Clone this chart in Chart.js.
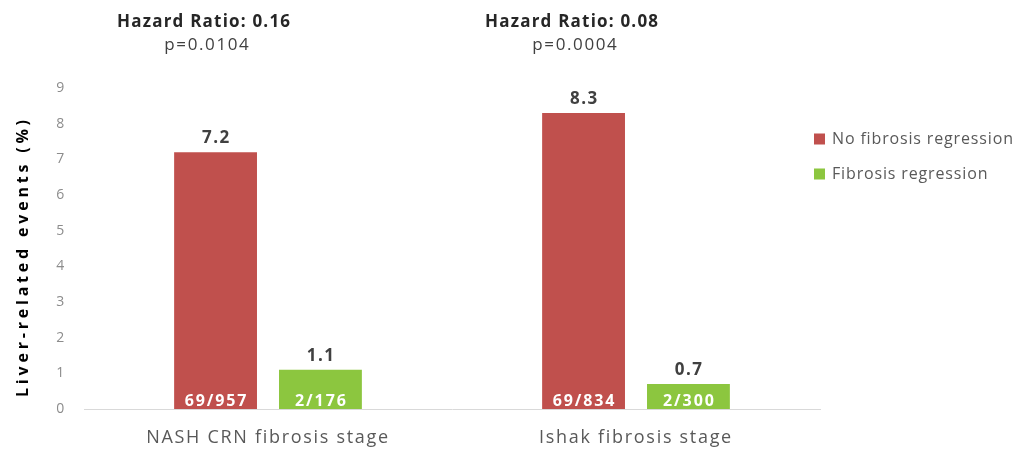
<!DOCTYPE html>
<html>
<head>
<meta charset="utf-8">
<script src="https://cdn.jsdelivr.net/npm/chart.js@4/dist/chart.umd.min.js"></script>
<style>
  html, body { margin: 0; padding: 0; background: #ffffff; }
  #wrap { width: 1022px; height: 453px; position: relative; }
</style>
</head>
<body>
<div id="wrap"><canvas id="c" width="1022" height="453"></canvas></div>
<script>
// Liver-related events by fibrosis staging system
const categories = ['NASH CRN fibrosis stage', 'Ishak fibrosis stage'];
const seriesNames = ['No fibrosis regression', 'Fibrosis regression'];
const noRegression = [7.2, 8.3];
const regression = [1.1, 0.7];
const noRegressionCounts = ['69/957', '69/834'];
const regressionCounts = ['2/176', '2/300'];
const hazardRatios = ['Hazard Ratio: 0.16', 'Hazard Ratio: 0.08'];
const pValues = ['p=0.0104', 'p=0.0004'];
const yTicks = [0, 1, 2, 3, 4, 5, 6, 7, 8, 9];
const yTitle = 'Liver-related events (%)';

const RED = '#c0504d';
const GREEN = '#8cc63f';
const FONT = '"Open Sans", Lato, sans-serif';

function text(ctx, str, x, y, font, color, align, spacing) {
  ctx.font = font;
  ctx.fillStyle = color;
  ctx.letterSpacing = spacing + 'px';
  ctx.textAlign = 'left';
  const w = ctx.measureText(str).width - spacing;
  const x0 = align === 'center' ? x - w / 2 : x;
  ctx.fillText(str, x0, y);
}

const annotations = {
  id: 'annotations',
  beforeDraw(chart) {
    // slightly open tracking for the axis labels
    chart.ctx.letterSpacing = '1.7px';
  },
  afterDatasetsDraw(chart) {
    const ctx = chart.ctx;
    const counts = [noRegressionCounts, regressionCounts];
    ctx.save();
    ctx.textBaseline = 'alphabetic';
    chart.data.datasets.forEach((ds, di) => {
      const meta = chart.getDatasetMeta(di);
      meta.data.forEach((bar, i) => {
        // value above the bar
        text(ctx, ds.data[i].toFixed(1), bar.x, bar.y - 9, 'bold 17px ' + FONT, '#404040', 'center', 1.5);
        // patient count at the bar base
        text(ctx, counts[di][i], bar.x, bar.base - 3, 'bold 16px ' + FONT, '#ffffff', 'center', 1.9);
      });
    });
    // hazard ratio headers above each group
    ctx.textBaseline = 'middle';
    chart.getDatasetMeta(0).data.forEach((bar, i) => {
      const cx = bar.x - 12;
      text(ctx, hazardRatios[i], cx, 22, 'bold 17px ' + FONT, '#262626', 'center', 1.2);
      text(ctx, pValues[i], cx + 3, 45, '17px ' + FONT, '#404040', 'center', 1.6);
    });
    // legend on the right
    const colors = [RED, GREEN];
    const lx = 814, ly = [139, 174];
    seriesNames.forEach((name, i) => {
      ctx.fillStyle = colors[i];
      ctx.fillRect(lx, ly[i] - 5.5, 11, 11);
      text(ctx, name, lx + 18, ly[i], '16px ' + FONT, '#595959', 'left', 0.85);
    });
    // vertical axis title
    const area = chart.chartArea;
    ctx.translate(23, (area.top + area.bottom) / 2 + 10);
    ctx.rotate(-Math.PI / 2);
    text(ctx, yTitle, 0, 0, 'bold 16px ' + FONT, '#000000', 'center', 3.8);
    ctx.restore();
  }
};

new Chart(document.getElementById('c'), {
  type: 'bar',
  data: {
    labels: categories,
    datasets: [
      { label: seriesNames[0], data: noRegression, backgroundColor: RED,
        categoryPercentage: 0.57, barPercentage: 0.79 },
      { label: seriesNames[1], data: regression, backgroundColor: GREEN,
        categoryPercentage: 0.57, barPercentage: 0.79 }
    ]
  },
  options: {
    responsive: false,
    animation: false,
    layout: { padding: { top: 88, right: 202, left: 0, bottom: 0 } },
    plugins: {
      legend: { display: false },
      tooltip: { enabled: false }
    },
    scales: {
      x: {
        grid: { display: false },
        border: { display: true, color: '#d9d9d9', width: 1 },
        ticks: { color: '#595959', font: { family: FONT, size: 18 }, padding: 10 },
        afterFit(s) { s.height = 44; }
      },
      y: {
        min: 0, max: 9,
        afterBuildTicks(s) { s.ticks = yTicks.map(v => ({ value: v })); },
        grid: { display: false, drawTicks: false },
        border: { display: false },
        ticks: { color: '#8c8c8c', font: { family: FONT, size: 14 }, padding: 18 },
        afterFit(s) { s.width = 84; }
      }
    }
  },
  plugins: [annotations]
});
</script>
</body>
</html>
